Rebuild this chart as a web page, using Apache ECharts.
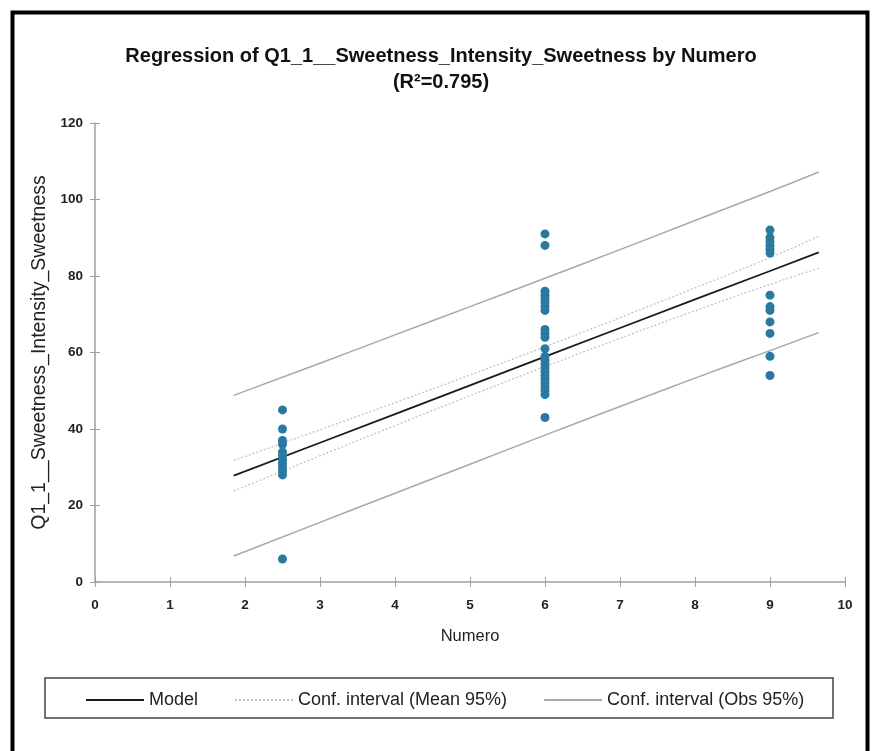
<!DOCTYPE html>
<html>
<head>
<meta charset="utf-8">
<script src="https://cdn.jsdelivr.net/npm/echarts@6/dist/echarts.min.js"></script>
<style>
  html, body { margin: 0; padding: 0; background: #fff; }
  #chart { width: 882px; height: 751px; }
</style>
</head>
<body>
<div id="chart"></div>
<script>
// Observed sweetness scores at each Numero level
const groupX = [2.5, 6, 9];
const sweetAt2_5 = [45, 40, 37, 36, 34, 33, 32, 31, 30, 29, 28, 6];
const sweetAt6 = [91, 88, 76, 75, 74, 73, 72, 71, 66, 65, 64, 61, 59, 58, 57, 56, 55, 54, 53, 52, 51, 50, 49, 43];
const sweetAt9 = [92, 90, 89, 88, 87, 86, 75, 72, 71, 68, 65, 59, 54];

// Fitted model and 95% bands, sampled along Numero
const fitX = [1.85, 3, 4, 5, 6, 7, 8, 9, 9.65];
const modelY = [27.8, 36.4, 43.9, 51.4, 58.9, 66.4, 73.9, 81.3, 86.2];
const meanUpper = [31.8, 39.8, 46.9, 54.1, 61.5, 69.1, 76.9, 84.8, 90.4];
const meanLower = [23.8, 33.0, 40.9, 48.7, 56.3, 63.7, 70.9, 77.8, 82.0];
const obsUpper = [48.8, 57.2, 64.6, 72.0, 79.4, 86.9, 94.5, 102.1, 107.2];
const obsLower = [6.8, 15.6, 23.2, 30.8, 38.4, 45.9, 53.3, 60.5, 65.2];

const titleText = 'Regression of Q1_1__Sweetness_Intensity_Sweetness by Numero\n(R²=0.795)';
const xName = 'Numero';
const yName = 'Q1_1__Sweetness_Intensity_Sweetness';
const legendNames = ['Model', 'Conf. interval (Mean 95%)', 'Conf. interval (Obs 95%)'];

const font = '"Liberation Sans", Arial, sans-serif';

const pairs = (xs, ys) => xs.map((x, i) => [x, ys[i]]);
const points = [];
[sweetAt2_5, sweetAt6, sweetAt9].forEach((vals, g) => {
  vals.forEach(v => points.push([groupX[g], v]));
});

const axisGrey = '#a0a0a0';

const chart = echarts.init(document.getElementById('chart'));
chart.setOption({
  backgroundColor: '#fff',
  animation: false,
  title: {
    text: titleText,
    left: 'center',
    top: 38,
    textStyle: {
      fontFamily: font,
      fontWeight: 'bold',
      fontSize: 20,
      lineHeight: 26,
      color: '#111'
    }
  },
  graphic: [
    {
      type: 'rect',
      shape: { x: 12.5, y: 12.5, width: 855, height: 770 },
      style: { fill: 'none', stroke: '#000', lineWidth: 4 },
      z: 100
    },
    {
      type: 'rect',
      shape: { x: 45, y: 678, width: 788, height: 40 },
      style: { fill: 'none', stroke: '#444', lineWidth: 1.5 },
      z: 100
    }
  ],
  legend: {
    data: legendNames,
    left: 80,
    top: 686,
    itemWidth: 58,
    itemHeight: 14,
    itemGap: 36,
    itemStyle: { opacity: 0 },
    textStyle: { fontFamily: font, fontSize: 18, color: '#222' }
  },
  grid: { left: 95, right: 37, top: 123, bottom: 169 },
  xAxis: [
    {
      type: 'value',
      min: 0, max: 10, interval: 1,
      name: xName,
      nameLocation: 'middle',
      nameGap: 46,
      nameTextStyle: { fontFamily: font, fontSize: 16.5, color: '#222' },
      axisLine: { show: true, lineStyle: { color: axisGrey, width: 1.5 } },
      axisTick: { show: true, length: 5, lineStyle: { color: axisGrey } },
      axisLabel: { margin: 16, fontFamily: font, fontSize: 13.5, fontWeight: 'bold', color: '#222' },
      splitLine: { show: false }
    },
    {
      type: 'value',
      min: 0, max: 10, interval: 1,
      position: 'bottom',
      axisLine: { show: false },
      axisTick: { show: true, inside: true, length: 5, lineStyle: { color: axisGrey } },
      axisLabel: { show: false },
      splitLine: { show: false }
    }
  ],
  yAxis: [
    {
      type: 'value',
      min: 0, max: 120, interval: 20,
      name: yName,
      nameLocation: 'middle',
      nameGap: 42,
      nameTextStyle: { fontFamily: font, fontSize: 19.5, color: '#222' },
      axisLine: { show: true, lineStyle: { color: axisGrey, width: 1.5 } },
      axisTick: { show: true, length: 5, lineStyle: { color: axisGrey } },
      axisLabel: { margin: 12, fontFamily: font, fontSize: 13.5, fontWeight: 'bold', color: '#222' },
      splitLine: { show: false }
    },
    {
      type: 'value',
      min: 0, max: 120, interval: 20,
      position: 'left',
      offset: 0,
      axisLine: { show: false },
      axisTick: { show: true, inside: true, length: 5, lineStyle: { color: axisGrey } },
      axisLabel: { show: false },
      splitLine: { show: false }
    }
  ],
  series: [
    {
      name: 'Conf. interval (Obs 95%)',
      type: 'line',
      data: pairs(fitX, obsUpper),
      symbol: 'none',
      smooth: true,
      lineStyle: { color: '#a8a8a8', width: 1.5 },
      itemStyle: { color: '#a8a8a8' },
      z: 2
    },
    {
      name: 'Conf. interval (Obs 95%)',
      type: 'line',
      data: pairs(fitX, obsLower),
      symbol: 'none',
      smooth: true,
      lineStyle: { color: '#a8a8a8', width: 1.5 },
      itemStyle: { color: '#a8a8a8' },
      z: 2
    },
    {
      name: 'Conf. interval (Mean 95%)',
      type: 'line',
      data: pairs(fitX, meanUpper),
      symbol: 'none',
      smooth: true,
      lineStyle: { color: '#c4c4c4', width: 1.3, type: [2, 2] },
      itemStyle: { color: '#c4c4c4' },
      z: 2
    },
    {
      name: 'Conf. interval (Mean 95%)',
      type: 'line',
      data: pairs(fitX, meanLower),
      symbol: 'none',
      smooth: true,
      lineStyle: { color: '#c4c4c4', width: 1.3, type: [2, 2] },
      itemStyle: { color: '#c4c4c4' },
      z: 2
    },
    {
      name: 'Model',
      type: 'line',
      data: pairs(fitX, modelY),
      symbol: 'none',
      lineStyle: { color: '#1a1a1a', width: 1.8 },
      itemStyle: { color: '#1a1a1a' },
      z: 3
    },
    {
      name: 'Observations',
      type: 'scatter',
      data: points,
      symbol: 'circle',
      symbolSize: 9,
      itemStyle: { color: '#2a7aa0', opacity: 1 },
      z: 4
    }
  ]
});
</script>
</body>
</html>
